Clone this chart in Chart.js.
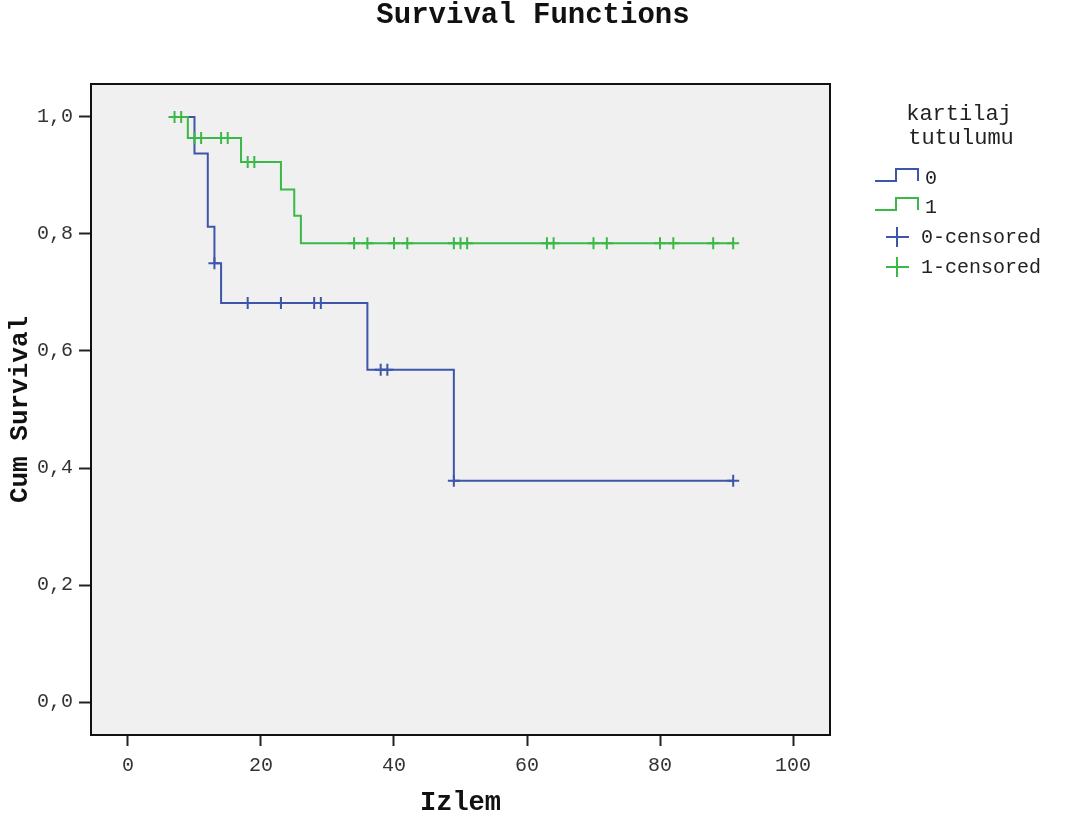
<!DOCTYPE html>
<html>
<head>
    <title>Survival Functions</title>
    <script src="https://cdn.jsdelivr.net/npm/chart.js"></script>
    <style>
        body { margin: 0; background: #ffffff; }
        #wrap { width: 1066px; height: 822px; }
    </style>
</head>
<body>
    <div id="wrap"><canvas id="survChart"></canvas></div>

    <script>
        // axis ticks
        const xTicks = [0, 20, 40, 60, 80, 100];
        const yTicks = [0, 0.2, 0.4, 0.6, 0.8, 1.0];

        // kartilaj tutulumu = 0 : step points (time, cum survival) and censored cases
        const g0Times = [7, 10, 12, 13, 14, 36, 49, 91];
        const g0Surv = [1.0, 0.9375, 0.8125, 0.75, 0.682, 0.568, 0.378, 0.378];
        const g0CensTimes = [13, 18, 23, 28, 29, 38, 39, 49, 91];
        const g0CensSurv = [0.75, 0.682, 0.682, 0.682, 0.682, 0.568, 0.568, 0.378, 0.378];

        // kartilaj tutulumu = 1
        const g1Times = [7, 9, 17, 23, 25, 26, 91];
        const g1Surv = [1.0, 0.964, 0.923, 0.876, 0.831, 0.784, 0.784];
        const g1CensTimes = [7, 8, 10, 11, 14, 15, 18, 19, 34, 36, 40, 42, 49, 50, 51, 63, 64, 70, 72, 80, 82, 88, 91];
        const g1CensSurv = [1.0, 1.0, 0.964, 0.964, 0.964, 0.964, 0.923, 0.923,
            0.784, 0.784, 0.784, 0.784, 0.784, 0.784, 0.784, 0.784, 0.784, 0.784, 0.784, 0.784, 0.784, 0.784, 0.784];

        const chartTitle = "Survival Functions";
        const legendTitle = ["kartilaj", "tutulumu"];
        const legendLabels = ["0", "1", "0-censored", "1-censored"];

        const blue = "rgb(62,86,170)";
        const green = "rgb(58,184,72)";
        const mono = '"Liberation Mono", "Courier New", monospace';

        function toPoints(xs, ys) {
            return xs.map((x, i) => ({ x: x, y: ys[i] }));
        }

        // grey plot area, black frame, page title
        const framePlugin = {
            id: "frame",
            beforeDatasetsDraw(chart) {
                const a = chart.chartArea, c = chart.ctx;
                c.save();
                c.fillStyle = "#f0f0f0";
                c.fillRect(a.left, a.top, a.right - a.left, a.bottom - a.top);
                c.restore();
            },
            afterDraw(chart) {
                const a = chart.chartArea, c = chart.ctx;
                c.save();
                c.strokeStyle = "#111";
                c.lineWidth = 2;
                c.strokeRect(a.left, a.top, a.right - a.left, a.bottom - a.top);
                c.fillStyle = "#111";
                c.font = "bold 29px " + mono;
                c.textAlign = "center";
                c.textBaseline = "alphabetic";
                c.fillText(chartTitle, chart.width / 2, 23);
                c.restore();
            }
        };

        // SPSS style legend on the right
        const legendPlugin = {
            id: "kmLegend",
            afterDraw(chart) {
                const c = chart.ctx;
                c.save();
                c.fillStyle = "#222";
                c.font = "22px " + mono;
                c.textBaseline = "middle";
                c.textAlign = "center";
                c.fillText(legendTitle[0], 959, 114);
                c.fillText(legendTitle[1], 961, 138);
                c.textAlign = "left";
                c.font = "20px " + mono;

                c.lineWidth = 2;
                // step icons
                [[blue, 178], [green, 207]].forEach(function (it, i) {
                    const yb = it[1] + 3, yt = it[1] - 9;
                    c.strokeStyle = it[0];
                    c.beginPath();
                    c.moveTo(875, yb);
                    c.lineTo(896, yb);
                    c.lineTo(896, yt);
                    c.lineTo(918, yt);
                    c.lineTo(918, yb);
                    c.stroke();
                    c.fillText(legendLabels[i], 925, it[1] + 1);
                });
                // censored crosses
                [[blue, 237], [green, 267]].forEach(function (it, i) {
                    c.strokeStyle = it[0];
                    c.beginPath();
                    c.moveTo(886, it[1]);
                    c.lineTo(909, it[1]);
                    c.moveTo(897, it[1] - 10);
                    c.lineTo(897, it[1] + 10);
                    c.stroke();
                    c.fillText(legendLabels[i + 2], 921, it[1] + 1);
                });
                c.restore();
            }
        };

        const ctx = document.getElementById("survChart").getContext("2d");
        const chart = new Chart(ctx, {
            type: "scatter",
            data: {
                datasets: [
                    {
                        label: "1-censored",
                        data: toPoints(g1CensTimes, g1CensSurv),
                        pointStyle: "cross",
                        pointRadius: 6,
                        pointBorderWidth: 2,
                        borderColor: green,
                        showLine: false
                    },
                    {
                        label: "0-censored",
                        data: toPoints(g0CensTimes, g0CensSurv),
                        pointStyle: "cross",
                        pointRadius: 6,
                        pointBorderWidth: 2,
                        borderColor: blue,
                        showLine: false
                    },
                    {
                        label: "1",
                        data: toPoints(g1Times, g1Surv),
                        showLine: true,
                        stepped: true,
                        borderColor: green,
                        borderWidth: 2,
                        pointRadius: 0
                    },
                    {
                        label: "0",
                        data: toPoints(g0Times, g0Surv),
                        showLine: true,
                        stepped: true,
                        borderColor: blue,
                        borderWidth: 2,
                        pointRadius: 0
                    }
                ]
            },
            options: {
                responsive: true,
                maintainAspectRatio: false,
                animation: false,
                layout: { padding: { left: 0, right: 236, top: 84, bottom: 0 } },
                plugins: {
                    legend: { display: false },
                    tooltip: { enabled: false },
                    title: { display: false }
                },
                scales: {
                    x: {
                        type: "linear",
                        min: -5.56,
                        max: 105.56,
                        afterBuildTicks: function (scale) {
                            scale.ticks = xTicks.map(v => ({ value: v }));
                        },
                        afterFit: function (scale) { scale.height = 87; },
                        grid: { drawOnChartArea: false, tickLength: 11, tickWidth: 2, tickColor: "#222" },
                        border: { display: false },
                        ticks: { color: "#333", font: { family: mono, size: 20 }, padding: 8, maxRotation: 0 },
                        title: {
                            display: true,
                            text: "Izlem",
                            color: "#111",
                            font: { family: mono, size: 27, weight: "bold", lineHeight: 1.2 },
                            padding: { top: 0, bottom: 3 }
                        }
                    },
                    y: {
                        type: "linear",
                        min: -0.0564,
                        max: 1.0564,
                        afterBuildTicks: function (scale) {
                            scale.ticks = yTicks.map(v => ({ value: v }));
                        },
                        afterFit: function (scale) { scale.width = 91; },
                        grid: { drawOnChartArea: false, tickLength: 12, tickWidth: 2, tickColor: "#222" },
                        border: { display: false },
                        ticks: {
                            color: "#333",
                            font: { family: mono, size: 20 },
                            padding: 6,
                            callback: function (v) { return v.toFixed(1).replace(".", ","); }
                        },
                        title: {
                            display: true,
                            text: "Cum Survival",
                            color: "#111",
                            font: { family: mono, size: 26, weight: "bold", lineHeight: 1.2 },
                            padding: { top: 5, bottom: 0 }
                        }
                    }
                }
            },
            plugins: [framePlugin, legendPlugin]
        });
    </script>
</body>
</html>
